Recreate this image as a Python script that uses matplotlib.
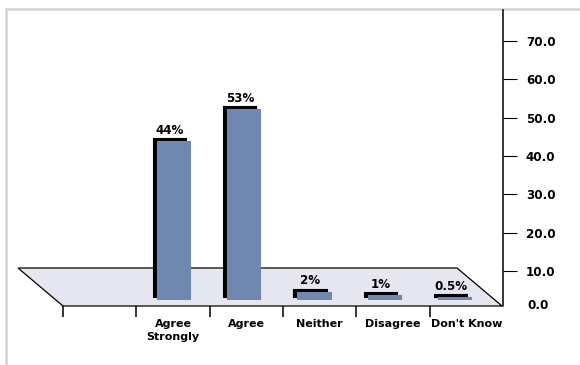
import matplotlib
matplotlib.use("Agg")
import matplotlib.pyplot as plt
from matplotlib.patches import Polygon
from matplotlib.transforms import offset_copy
from matplotlib.ticker import FixedLocator, NullFormatter

categories = ["Agree\nStrongly", "Agree", "Neither", "Disagree", "Don't Know"]
values = [44, 53, 2, 1, 0.5]
axis_ticks = [10, 20, 30, 40, 50, 60, 70]

BLUE = "#7087B0"
FLOOR = "#E6E6F0"
BORDER = "#D3D3D3"
FONT = "DejaVu Sans"

W, H = 580, 365
fig = plt.figure(figsize=(W / 100, H / 100), dpi=100)
fig.patch.set_facecolor("white")


def fx(px):
    return px / W


def fy(py):
    return 1 - py / H


# background decoration (frame border and floor)
bg = fig.add_axes([0, 0, 1, 1], zorder=0)
bg.set_xlim(0, W)
bg.set_ylim(H, 0)
bg.axis("off")
bg.add_patch(Polygon([(18, 268), (457, 268), (502, 306), (63, 306)], closed=True,
                     facecolor=FLOOR, edgecolor="black", lw=0.9))
bg.plot([5, W], [9, 9], color=BORDER, lw=1.8, solid_capstyle="butt")
bg.plot([6, 6], [9, H], color=BORDER, lw=1.8, solid_capstyle="butt")

# right value axis
y0, ytop = 309.3, 10
ppu = (y0 - 41) / 70.0
ymax = (y0 - ytop) / ppu
ax_r = fig.add_axes([fx(63), fy(y0), fx(503) - fx(63), (y0 - ytop) / H], zorder=2)
ax_r.patch.set_alpha(0)
ax_r.set_ylim(0, ymax)
ax_r.set_xlim(0, 1)
for s in ["left", "top", "bottom"]:
    ax_r.spines[s].set_visible(False)
ax_r.spines["right"].set_linewidth(1.1)
ax_r.spines["right"].set_bounds((y0 - 306) / ppu, ymax)
ax_r.set_xticks([])
ax_r.yaxis.tick_right()
ax_r.set_yticks(axis_ticks)
ax_r.set_yticklabels([f"{t:.1f}" for t in axis_ticks], fontfamily=FONT,
                     fontweight="bold", fontsize=8.6)
ax_r.tick_params(axis="y", length=10, width=0.8, pad=6.5)
ax_r.annotate(f"{0:.1f}", xy=(1, 0), xycoords=("axes fraction", "data"),
              xytext=(24, 4), textcoords="offset pixels", ha="left", va="center",
              fontfamily=FONT, fontweight="bold", fontsize=8.6)

# bars
idx = list(range(len(categories)))
bx0, bx1 = 173.7 - 1.5 * 70.4, 173.7 + 4.5 * 70.4
by0, bppu, bymax = 300, 3.58, 80
ax_b = fig.add_axes([fx(bx0), fy(by0), (bx1 - bx0) / W, bppu * bymax / H], zorder=3)
ax_b.set_xlim(-1.5, 4.5)
ax_b.set_ylim(0, bymax)
ax_b.axis("off")
ax_b.patch.set_alpha(0)
shadow = offset_copy(ax_b.transData, fig=fig, x=-4, y=3, units="dots")
ax_b.bar(idx, values, width=0.455, color="black", edgecolor="black", lw=1.5,
         transform=shadow, zorder=1)
ax_b.bar(idx, values, width=0.455, color=BLUE, edgecolor=BLUE, lw=1.5, zorder=2)
for i, v in zip(idx, values):
    ax_b.annotate(f"{v:g}%", xy=(i, v), xytext=(-4, 8.5), textcoords="offset pixels",
                  ha="center", va="baseline", fontfamily=FONT, fontweight="bold",
                  fontsize=8.6)

# category axis (front edge of floor)
ax_c = fig.add_axes([fx(63), fy(306), fx(503) - fx(63), 0.01], zorder=2)
ax_c.patch.set_alpha(0)
ax_c.set_xlim(-1.5, 4.5)
for s in ["left", "top", "right", "bottom"]:
    ax_c.spines[s].set_visible(False)
ax_c.set_yticks([])
ax_c.xaxis.set_major_locator(FixedLocator([-1.5, -0.5, 0.5, 1.5, 2.5, 3.5]))
ax_c.xaxis.set_major_formatter(NullFormatter())
ax_c.xaxis.set_minor_locator(FixedLocator(idx))
ax_c.set_xticklabels(categories, minor=True, fontfamily=FONT, fontweight="bold",
                     fontsize=8, linespacing=1.4)
ax_c.tick_params(axis="x", which="major", length=8, width=1.1, direction="out")
ax_c.tick_params(axis="x", which="minor", length=0, pad=9.5)

fig.savefig("out.png", dpi=100)
